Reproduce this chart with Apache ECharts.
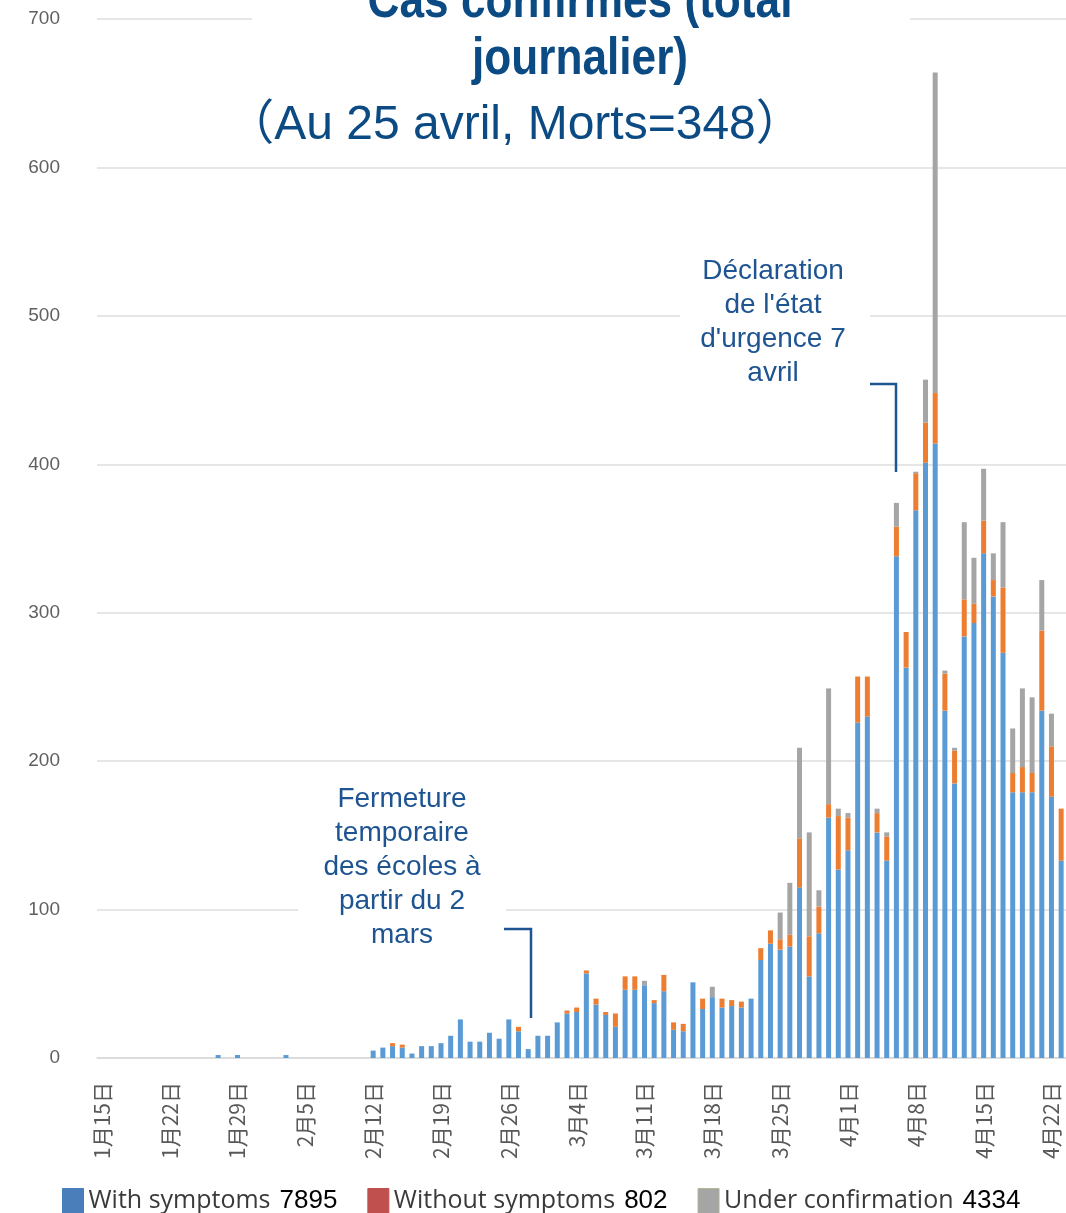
<!DOCTYPE html>
<html><head><meta charset="utf-8">
<script src="https://cdn.jsdelivr.net/npm/echarts@6/dist/echarts.min.js"></script>
<style>html,body{margin:0;padding:0;background:#fff}#c{width:1066px;height:1213px}</style>
</head><body><div id="c"></div>
<script>
// Day categories: 15 Jan -> 23 Apr (2020)
const startMonth = 1, startDay = 15, dayCount = 100;
const monthLengths = [31, 29, 31, 30];
const categories = [];
(function(){ let m = startMonth, d = startDay; for (let i = 0; i < dayCount; i++) { categories.push(m + '月' + d + '日'); d++; if (d > monthLengths[m-1]) { d = 1; m++; } } })();

// Values, index 0 = 1月15日
const withSymptoms = [
 0,0,0,0,0,0,0,0,0,0, 0,0,2,0,2,0,0,0,0,2,
 0,0,0,0,0,0,0,0,5,7, 8,7,3,8,8,10,15,26,11,11,
 17,13,26,18,6,15,15,24,30,31, 57,36,29,21,46,46,49,37,45,19,
 18,51,33,41,34,35,34,40,66,77, 73,75,115,55,84,162,127,140,226,230,
 152,133,338,263,369,401,414,234,185,284, 293,340,311,273,179,179,179,234,176,133
];
const withoutSymptoms = [
 0,0,0,0,0,0,0,0,0,0, 0,0,0,0,0,0,0,0,0,0,
 0,0,0,0,0,0,0,0,0,0, 2,2,0,0,0,0,0,0,0,0,
 0,0,0,3,0,0,0,0,2,3, 2,4,2,9,9,9,0,2,11,5,
 5,0,7,0,6,4,4,0,8,9, 7,8,33,27,18,9,36,22,31,27,
 13,16,20,24,25,27,34,25,22,25, 13,22,11,44,13,17,13,54,34,35
];
const underConfirmation = [
 0,0,0,0,0,0,0,0,0,0, 0,0,0,0,0,0,0,0,0,0,
 0,0,0,0,0,0,0,0,0,0, 0,0,0,0,0,0,0,0,0,0,
 0,0,0,0,0,0,0,0,0,0, 0,0,0,0,0,0,3,0,0,0,
 0,0,0,7,0,0,0,0,0,0, 18,35,61,70,11,78,5,3,0,0,
 3,3,16,0,1,29,216,2,2,52, 31,35,18,44,30,53,51,34,22,0
];
const seriesNames = ['With symptoms', 'Without symptoms', 'Under confirmation'];
const legendTotals = [7895, 802, 4334];
const yTicks = [0, 100, 200, 300, 400, 500, 600, 700];

const barColors = ['#5b9bd5', '#ed7d31', '#a5a5a5'];
const legendColors = ['#4a7ebb', '#c0504d', '#a5a5a5'];
const navy = '#0b4a82';
const noteColor = '#1d5491';

const chart = echarts.init(document.getElementById('c'), null, {renderer: 'canvas'});
const seriesData = [withSymptoms, withoutSymptoms, underConfirmation];
const titleFont = 'bold 52px "Liberation Sans", Arial, sans-serif';

chart.setOption({
  animation: false,
  backgroundColor: '#ffffff',
  grid: {left: 97, right: 0, top: 19, bottom: 155, containLabel: false},
  xAxis: {
    type: 'category', data: categories,
    axisLine: {lineStyle: {color: '#d9d9d9', width: 1.5}},
    axisTick: {show: false},
    axisLabel: {interval: 6, rotate: 90, margin: 24, color: '#595959', fontSize: 21,
      fontFamily: '"Noto Sans CJK JP", "Noto Sans CJK SC", sans-serif'}
  },
  yAxis: {
    type: 'value', min: yTicks[0], max: yTicks[yTicks.length-1], interval: 100,
    axisLine: {show: false}, axisTick: {show: false},
    splitLine: {lineStyle: {color: '#dedede', width: 1.5}},
    axisLabel: {margin: 37, color: '#5f5f5f', fontSize: 19, fontFamily: '"Liberation Sans", Arial, sans-serif'}
  },
  legend: {
    top: 1183, left: 57, itemGap: 30, itemWidth: 21, itemHeight: 25, icon: 'rect',
    data: seriesNames.map((n, i) => ({name: n, itemStyle: {color: legendColors[i], borderColor: i === 2 ? '#b5b59a' : legendColors[i], borderWidth: 1}})),
    formatter: function(name){ const i = seriesNames.indexOf(name); return '{n|' + name + '}{v|' + legendTotals[i] + '}'; },
    textStyle: {rich: {
      n: {fontFamily: '"Open Sans", "Noto Sans", sans-serif', fontSize: 25, color: '#3a3a3a'},
      v: {fontFamily: '"Liberation Sans", Arial, sans-serif', fontSize: 26, color: '#000000', padding: [0, 0, 0, 9]}
    }}
  },
  series: seriesNames.map((n, i) => ({
    name: n, type: 'bar', stack: 'total', barWidth: 5,
    itemStyle: {color: barColors[i]}, data: seriesData[i]
  })),
  graphic: [
    {type: 'rect', z: 50, shape: {x: 252, y: 0, width: 658, height: 152}, style: {fill: '#ffffff'}},
    {type: 'text', z: 51, x: 580, y: 3, scaleX: 0.85, style: {text: 'Cas confirmés (total', fill: navy, align: 'center', verticalAlign: 'middle', font: titleFont}},
    {type: 'text', z: 51, x: 580, y: 60, scaleX: 0.85, style: {text: 'journalier)', fill: navy, align: 'center', verticalAlign: 'middle', font: titleFont}},
    {type: 'text', z: 51, x: 515, y: 126, style: {text: '（Au 25 avril, Morts=348）', fill: navy, align: 'center', verticalAlign: 'middle',
      font: '48px "Liberation Sans", "Noto Sans CJK JP", sans-serif'}},
    {type: 'rect', z: 50, shape: {x: 680, y: 250, width: 190, height: 142}, style: {fill: '#ffffff'}},
    {type: 'text', z: 51, x: 773, y: 322, style: {text: 'Déclaration\nde l\'état\nd\'urgence 7\navril', fill: noteColor, align: 'center', verticalAlign: 'middle',
      lineHeight: 34, font: '28px "Liberation Sans", Arial, sans-serif'}},
    {type: 'polyline', z: 51, shape: {points: [[870, 384], [896, 384], [896, 472]]}, style: {stroke: noteColor, lineWidth: 2.5, fill: null}},
    {type: 'rect', z: 50, shape: {x: 298, y: 778, width: 208, height: 176}, style: {fill: '#ffffff'}},
    {type: 'text', z: 51, x: 402, y: 867, style: {text: 'Fermeture\ntemporaire\ndes écoles à\npartir du 2\nmars', fill: noteColor, align: 'center', verticalAlign: 'middle',
      lineHeight: 34, font: '28px "Liberation Sans", Arial, sans-serif'}},
    {type: 'polyline', z: 51, shape: {points: [[504, 929], [531, 929], [531, 1018]]}, style: {stroke: noteColor, lineWidth: 2.5, fill: null}}
  ]
});
</script>
</body></html>
